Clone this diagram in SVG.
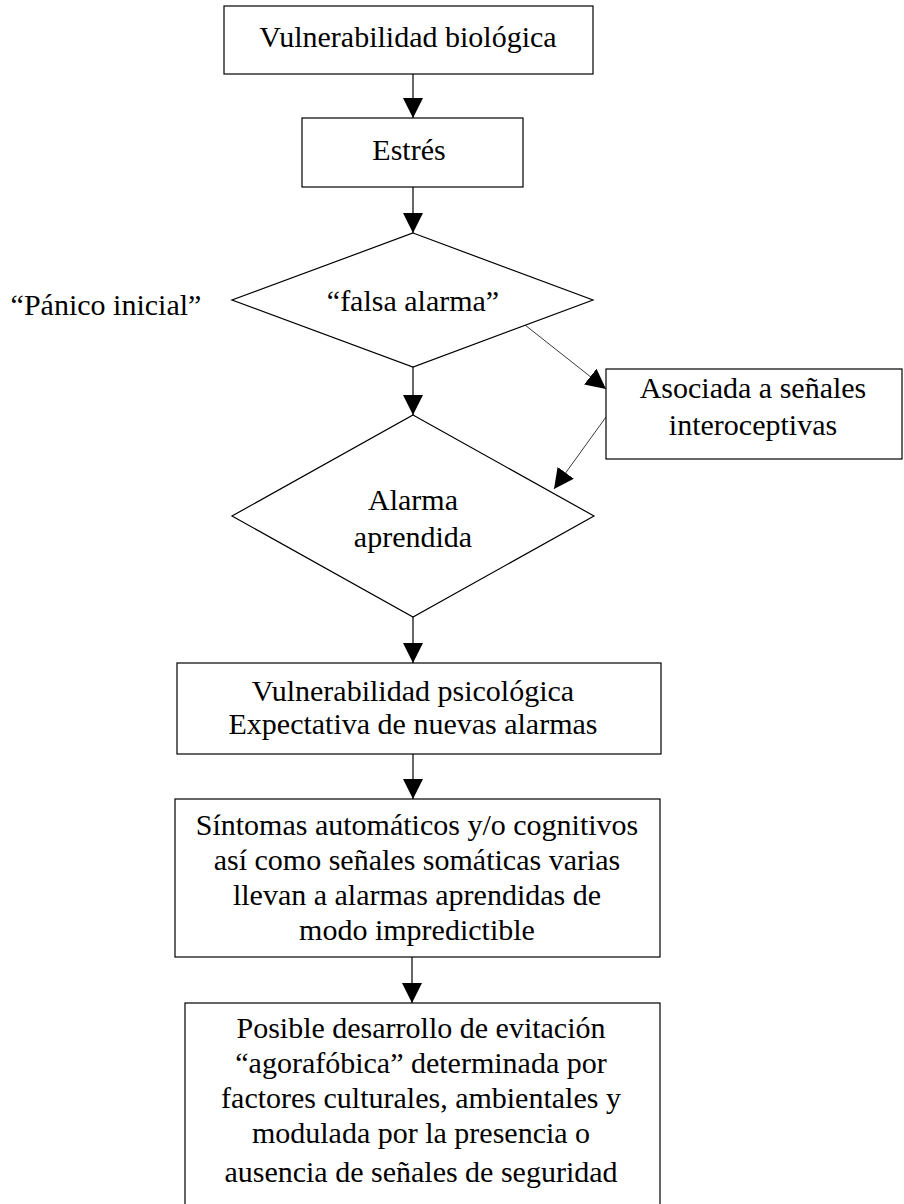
<svg xmlns="http://www.w3.org/2000/svg" width="904" height="1204" viewBox="0 0 904 1204">
<style>
.n{fill:#fff;stroke:#000;stroke-width:1.2}
.t{font-family:'Liberation Serif','DejaVu Serif',serif;font-size:30px;fill:#000;text-anchor:middle}
.c{stroke:#000;stroke-width:1.2;fill:none}
.d{stroke:#222;stroke-width:0.9;fill:none}
</style>
<defs>
<marker id="ah" markerUnits="userSpaceOnUse" markerWidth="20" markerHeight="20" refX="20" refY="10" orient="auto">
<path d="M0,0 L20,10 L0,20 Z" fill="#000"/>
</marker>
</defs>
<rect width="904" height="1204" fill="#fff"/>
<g id="connectors">
<line class="c" x1="413" y1="74" x2="413" y2="118" marker-end="url(#ah)"/>
<line class="c" x1="413" y1="187" x2="413" y2="233" marker-end="url(#ah)"/>
<line class="c" x1="413" y1="367" x2="413" y2="415" marker-end="url(#ah)"/>
<line class="c" x1="413" y1="617" x2="413" y2="663" marker-end="url(#ah)"/>
<line class="c" x1="413" y1="754" x2="413" y2="799" marker-end="url(#ah)"/>
<line class="c" x1="412" y1="957" x2="412" y2="1003" marker-end="url(#ah)"/>
<line class="d" x1="525" y1="325" x2="606" y2="389" marker-end="url(#ah)"/>
<line class="d" x1="606" y1="417" x2="554" y2="489" marker-end="url(#ah)"/>
</g>
<g id="n1">
<rect class="n" x="224" y="6" width="369" height="68"/>
<text class="t" x="408" y="47">Vulnerabilidad biológica</text>
</g>
<g id="n2">
<rect class="n" x="302" y="118" width="221" height="69"/>
<text class="t" x="409" y="160">Estrés</text>
</g>
<g id="n3">
<polygon class="n" points="413,233 593,300 413,367 232,300"/>
<text class="t" x="413" y="311">“falsa alarma”</text>
</g>
<g id="lbl">
<text class="t" x="106" y="315">“Pánico inicial”</text>
</g>
<g id="n4">
<rect class="n" x="606" y="369" width="296" height="90"/>
<text class="t" x="753" y="398">Asociada a señales</text>
<text class="t" x="753" y="435">interoceptivas</text>
</g>
<g id="n5">
<polygon class="n" points="413,415 594,516 413,617 232,516"/>
<text class="t" x="413" y="510">Alarma</text>
<text class="t" x="413" y="547">aprendida</text>
</g>
<g id="n6">
<rect class="n" x="177" y="663" width="484" height="91"/>
<text class="t" x="413" y="701">Vulnerabilidad psicológica</text>
<text class="t" x="413" y="734">Expectativa de nuevas alarmas</text>
</g>
<g id="n7">
<rect class="n" x="175" y="799" width="485" height="158"/>
<text class="t" x="417" y="835">Síntomas automáticos y/o cognitivos</text>
<text class="t" x="417" y="870">así como señales somáticas varias</text>
<text class="t" x="417" y="905">llevan a alarmas aprendidas de</text>
<text class="t" x="417" y="940">modo impredictible</text>
</g>
<g id="n8">
<rect class="n" x="185" y="1003" width="475" height="230"/>
<text class="t" x="421" y="1038">Posible desarrollo de evitación</text>
<text class="t" x="421" y="1073">“agorafóbica” determinada por</text>
<text class="t" x="421" y="1108">factores culturales, ambientales y</text>
<text class="t" x="421" y="1143">modulada por la presencia o</text>
<text class="t" x="421" y="1182">ausencia de señales de seguridad</text>
</g>
</svg>
